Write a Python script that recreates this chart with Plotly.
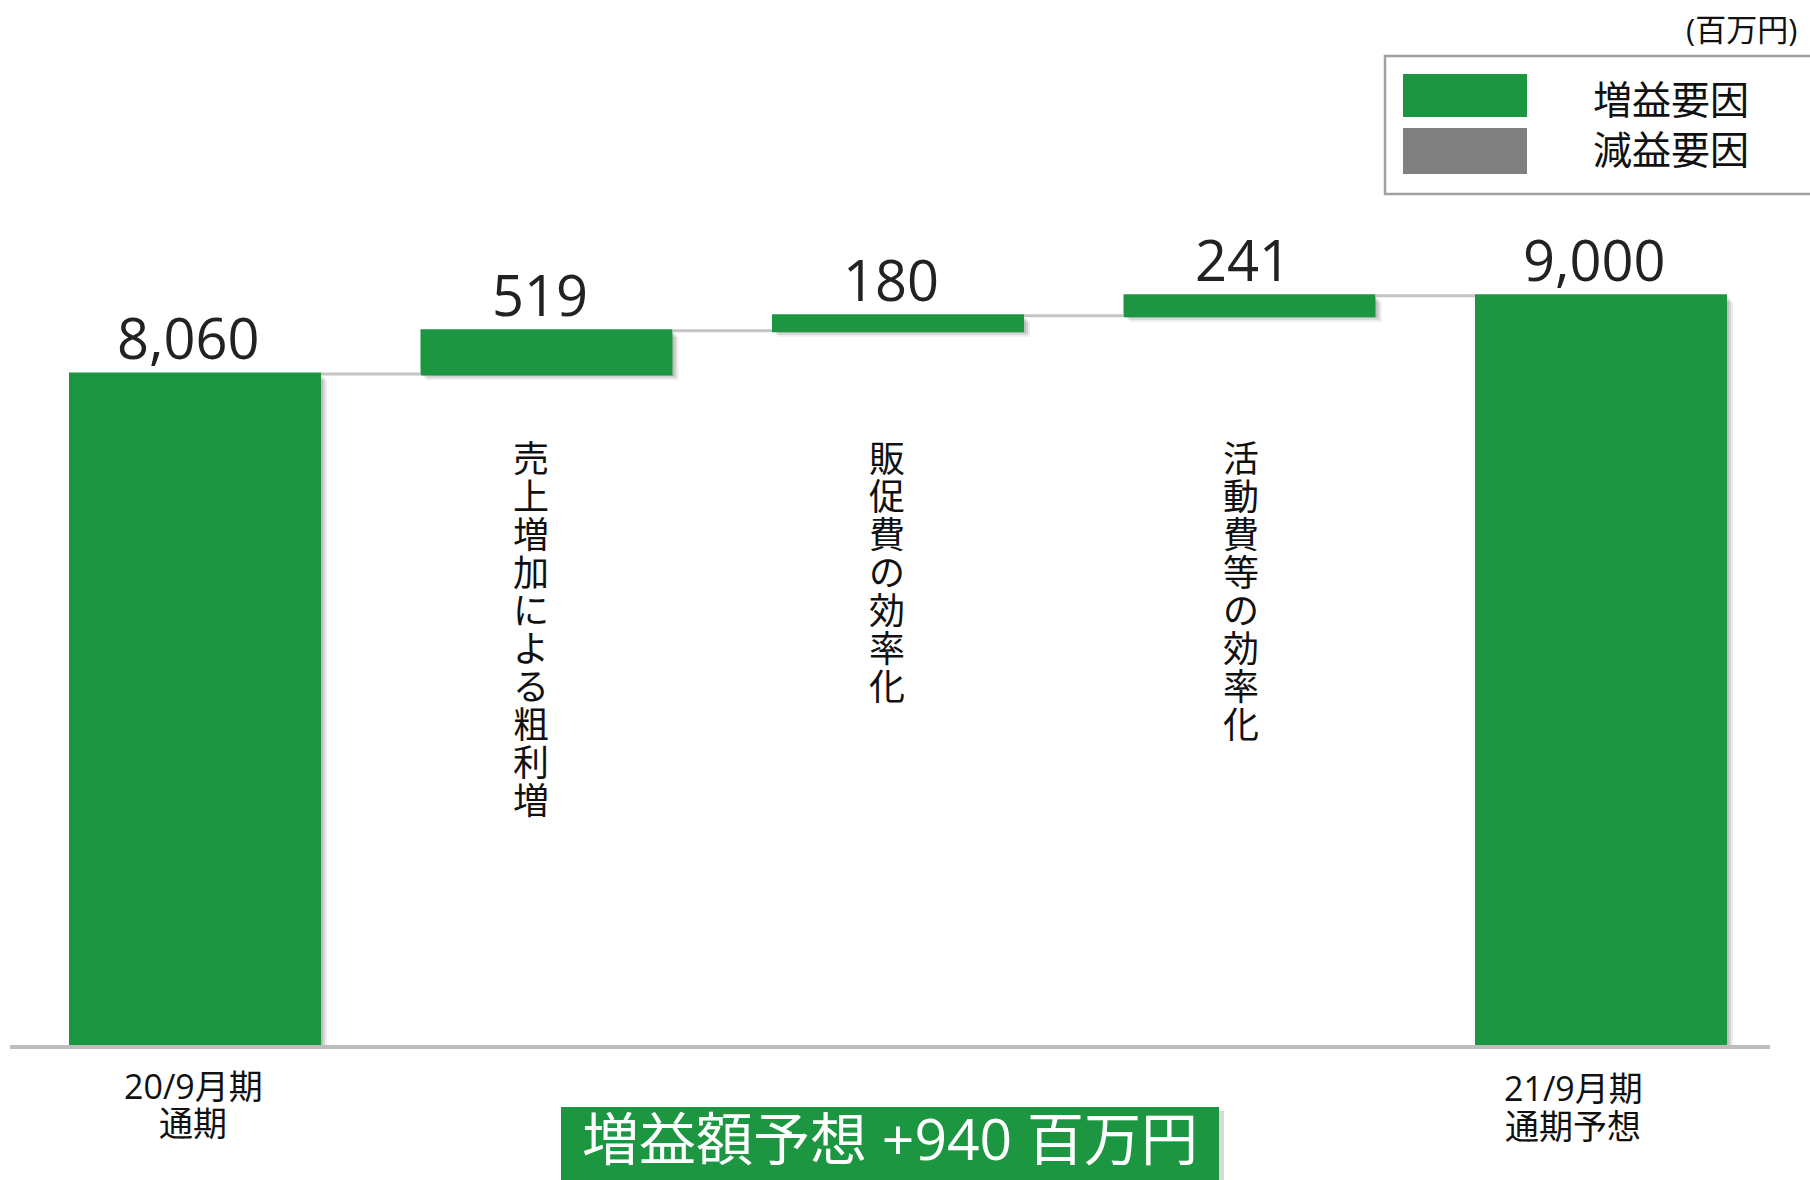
import plotly.graph_objects as go

# ---- data ----
categories = ["20/9月期<br>通期", "売上増加による粗利増", "販促費の効率化", "活動費等の効率化", "21/9月期<br>通期予想"]
values = [8060, 519, 180, 241, 9000]
measures = ["absolute", "relative", "relative", "relative", "total"]
value_labels = ["8,060", "519", "180", "241", "9,000"]
x_label_lines = [["20/9月期", "通期"], None, None, None, ["21/9月期", "通期予想"]]
vertical_labels = [None, "売上増加による粗利増", "販促費の効率化", "活動費等の効率化", None]
legend_items = ["増益要因", "減益要因"]
unit_label = "(百万円)"
summary_label = "増益額予想 +940 百万円"

# ---- style ----
W, H = 1810, 1180
GREEN = "#1D9641"
GRAY = "#808080"
FONT = "Open Sans, Noto Sans CJK JP, sans-serif"


def P(px):
    return px / W


def Q(py):
    return 1 - py / H


xpos = list(range(len(values)))

# bar tops (running totals) for label placement
tops = []
run = 0
for v, m in zip(values, measures):
    if m == "absolute":
        run = v
    elif m == "relative":
        run += v
    tops.append(run)

fig = go.Figure()

# soft shadow behind bars
for dx, dy, a in [(6, 6, 0.07), (4, 4, 0.10), (2, 2, 0.10)]:
    fig.add_trace(go.Waterfall(
        x=xpos, y=values, measure=measures,
        increasing=dict(marker=dict(color=f"rgba(0,0,0,{a})")),
        decreasing=dict(marker=dict(color=f"rgba(0,0,0,{a})")),
        totals=dict(marker=dict(color=f"rgba(0,0,0,{a})")),
        connector=dict(visible=False),
        width=0.717, offset=-0.717 / 2 + dx / 351.5, base=-dy / 0.08325,
        hoverinfo="skip", showlegend=False,
    ))

fig.add_trace(go.Waterfall(
    x=xpos, y=values, measure=measures,
    increasing=dict(marker=dict(color=GREEN)),
    decreasing=dict(marker=dict(color=GRAY)),
    totals=dict(marker=dict(color=GREEN)),
    connector=dict(line=dict(color="#C4C4C4", width=3), mode="between"),
    width=0.717,
    hoverinfo="skip", showlegend=False,
))

ann = []
# value labels above bars
for i, (t, top) in enumerate(zip(value_labels, tops)):
    ann.append(dict(x=xpos[i], xref="x", y=top, yref="y", text=t, showarrow=False,
                    xanchor="center", yanchor="bottom", xshift=-7, yshift=-3,
                    font=dict(size=56, color="#222222", family=FONT)))

# vertical category labels (one upright character per line)
xshifts = [0, -16, -11, -9, 0]
for i, lab in enumerate(vertical_labels):
    if not lab:
        continue
    txt = "<br>".join(f"<span style='font-size:36px'>{ch}</span>" for ch in lab)
    ann.append(dict(x=xpos[i], xref="x", xshift=xshifts[i], y=Q(432), yref="paper",
                    text=txt, showarrow=False, xanchor="center", yanchor="top",
                    font=dict(size=38 / 1.3, color="#111111", family=FONT)))

# x labels under bars
lab_x = {0: 193, 4: 1573}
lab_y = {0: (1086, 1123), 4: (1088, 1126)}
for i, lines in enumerate(x_label_lines):
    if not lines:
        continue
    for k, t in enumerate(lines):
        ann.append(dict(x=P(lab_x[i]), xref="paper", y=Q(lab_y[i][k]), yref="paper", text=t,
                        showarrow=False, xanchor="center", yanchor="middle",
                        font=dict(size=34, color="#111111", family=FONT)))

# unit label
ann.append(dict(x=P(1799), xref="paper", y=Q(29), yref="paper", text=unit_label, showarrow=False,
                xanchor="right", yanchor="middle", font=dict(size=31, color="#111111", family=FONT)))

# legend texts
for k, t in enumerate(legend_items):
    ann.append(dict(x=P(1591), xref="paper", y=Q([99, 148][k]), yref="paper", text=t, showarrow=False,
                    xanchor="left", yanchor="middle", font=dict(size=39, color="#111111", family=FONT)))

# summary label
ann.append(dict(x=P(890), xref="paper", y=Q(1138), yref="paper", text=summary_label, showarrow=False,
                xanchor="center", yanchor="middle", font=dict(size=57, color="white", family=FONT)))

shapes = [
    # legend box
    dict(type="rect", xref="paper", yref="paper", x0=P(1385), x1=P(1830), y0=Q(56), y1=Q(194),
         line=dict(color="#A0A0A0", width=2.5), fillcolor="white", layer="below"),
    dict(type="rect", xref="paper", yref="paper", x0=P(1403), x1=P(1527), y0=Q(74), y1=Q(117),
         line=dict(width=0), fillcolor=GREEN),
    dict(type="rect", xref="paper", yref="paper", x0=P(1403), x1=P(1527), y0=Q(128), y1=Q(174),
         line=dict(width=0), fillcolor=GRAY),
    # summary box shadow + box
    dict(type="rect", xref="paper", yref="paper", x0=P(566), x1=P(1224), y0=Q(1111), y1=Q(1190),
         line=dict(width=0), fillcolor="rgba(0,0,0,0.15)"),
    dict(type="rect", xref="paper", yref="paper", x0=P(561), x1=P(1219), y0=Q(1107), y1=Q(1190),
         line=dict(width=0), fillcolor=GREEN),
]

fig.update_layout(
    width=W, height=H,
    margin=dict(l=0, r=0, t=0, b=0),
    paper_bgcolor="white", plot_bgcolor="white",
    font=dict(family=FONT),
    showlegend=False,
    annotations=ann, shapes=shapes,
    xaxis=dict(domain=[P(10), P(1770)], range=[(10 - 195) / 351.5, (1770 - 195) / 351.5],
               showgrid=False, zeroline=False, showticklabels=False, ticks="",
               showline=True, linecolor="#BDBDBD", linewidth=4, fixedrange=True),
    yaxis=dict(domain=[1 - 1045 / H, 1], range=[0, 1045 / 0.08325],
               showgrid=False, zeroline=False, showticklabels=False, ticks="", showline=False,
               fixedrange=True),
    waterfallgap=0.283,
)

fig.write_html("out.html", config={"displayModeBar": False},
               post_script="document.body.style.margin='0';document.body.style.overflow='hidden';")
